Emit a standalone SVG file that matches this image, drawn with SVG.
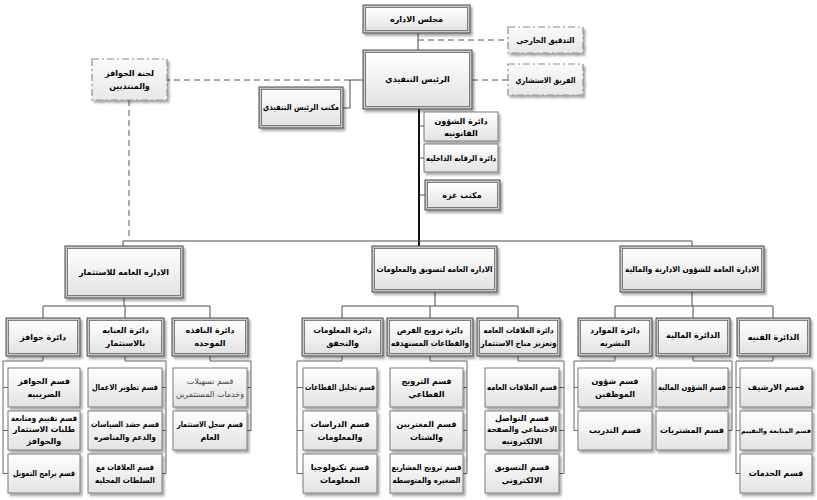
<svg xmlns="http://www.w3.org/2000/svg" width="817" height="500" viewBox="0 0 817 500">
<defs>
<linearGradient id="g" x1="0" y1="0" x2="0" y2="1"><stop offset="0" stop-color="#ffffff"/><stop offset="1" stop-color="#e2e2e2"/></linearGradient>
<linearGradient id="gd" x1="0" y1="0" x2="0" y2="1"><stop offset="0" stop-color="#fafafa"/><stop offset="1" stop-color="#e8e8e8"/></linearGradient>
<filter id="sh" x="-10%" y="-10%" width="130%" height="140%"><feDropShadow dx="2" dy="2.5" stdDeviation="1.2" flood-color="#000" flood-opacity="0.35"/></filter>
<style>
.o{fill:#c9c9c9;stroke:#4a4a4a;stroke-width:1;filter:url(#sh)}
.i{fill:url(#g);stroke:#666;stroke-width:0.8}
.s{fill:url(#g);stroke:#7a7a7a;stroke-width:1;filter:url(#sh)}
.d{fill:url(#gd);stroke:#8c8c8c;stroke-width:1.2;stroke-dasharray:7 3 2 3;filter:url(#sh)}
text{font-family:"DejaVu Sans","Liberation Sans",sans-serif;font-size:8px;font-weight:bold;text-anchor:middle;fill:#000}
.lt{font-weight:normal;fill:#444}
.sm{font-size:6.4px}
.cn path{fill:none;stroke:#4a4a4a;stroke-width:1}
.cn .ds{stroke:#555;stroke-dasharray:6 4}
.cn .tk{stroke:#111;stroke-width:2}
.cn .lg{stroke:#666}
</style>
</defs>
<rect width="817" height="500" fill="#fff"/>

<g id="connectors" class="cn">
<path d="M418,33V50"/>
<path class="ds" d="M418,40H508"/>
<path class="ds" d="M472,80H508"/>
<path d="M363,80H350V108H343"/>
<path class="ds" d="M350,80H167"/>
<path class="ds" d="M129,100V240"/>
<path class="tk" d="M419,109V246"/>
<path d="M419,126H424M419,158H424M419,195H425"/>
<path d="M123,246V241H692V246"/>
<path d="M124,298V306M43,318V306H210V318M125,306V318"/>
<path d="M435,292V306M342,318V306H518V318M430,306V318"/>
<path d="M692,292V306M615,318V306H773V318M693,306V318"/>
<path class="lg" d="M43,356V361H3V473.5M3,387.5H8M3,430.5H8M3,473.5H8"/>
<path class="lg" d="M125,356V361H166V473.5M166,387.5H162M166,430.5H162M166,473.5H162"/>
<path class="lg" d="M210,356V361H251V430.5M251,387.5H247M251,430.5H247"/>
<path class="lg" d="M342,356V361H297V473.5M297,387.5H303M297,430.5H303M297,473.5H303"/>
<path class="lg" d="M430,356V361H467V473.5M467,387.5H463M467,430.5H463M467,473.5H463"/>
<path class="lg" d="M518,356V361H564V473.5M564,387.5H559M564,430.5H559M564,473.5H559"/>
<path class="lg" d="M615,356V361H574V430.5M574,387.5H578M574,430.5H578"/>
<path class="lg" d="M693,356V361H732V430.5M732,387.5H728M732,430.5H728"/>
<path class="lg" d="M773,356V361H736V473.5M736,387.5H740M736,430.5H740M736,473.5H740"/>
</g>

<g id="board"><rect class="o" x="363" y="5" width="107" height="28"/><rect class="i" x="365.5" y="7.5" width="102" height="23"/><text x="416.5" y="22">مجلس الاداره</text></g>
<g id="ext-audit"><rect class="d" x="508" y="27" width="75" height="26"/><text x="545.5" y="43" textLength="58" lengthAdjust="spacingAndGlyphs">التدقيق الخارجي</text></g>
<g id="ceo"><rect class="o" x="363" y="50" width="109" height="59"/><rect class="i" x="365.5" y="52.5" width="104" height="54"/><text x="417.5" y="82">الرئيس التنفيذي</text></g>
<g id="advisory"><rect class="d" x="508" y="64" width="75" height="31"/><text x="545.5" y="83" textLength="60" lengthAdjust="spacingAndGlyphs">الفريق الاستشاري</text></g>
<g id="ceo-office"><rect class="o" x="259" y="87" width="84" height="41"/><rect class="i" x="261.5" y="89.5" width="79" height="36"/><text x="301" y="110" textLength="76" lengthAdjust="spacingAndGlyphs">مكتب الرئيس التنفيذي</text></g>
<g id="committee"><rect class="d" x="92" y="59" width="75" height="41"/><text x="129.5" y="76">لجنة الحوافز</text><text x="129.5" y="89">والمنتدبين</text></g>
<g id="legal"><rect class="s" x="424" y="112" width="74" height="29"/><text x="461" y="124">دائرة الشؤون</text><text x="461" y="136">القانونيه</text></g>
<g id="internal-audit"><rect class="s" x="424" y="144" width="74" height="28"/><text x="461" y="161" textLength="70" lengthAdjust="spacingAndGlyphs">دائرة الرقابه الداخليه</text></g>
<g id="gaza"><rect class="o" x="425" y="180" width="75" height="30"/><rect class="i" x="427.5" y="182.5" width="70" height="25"/><text x="462" y="198">مكتب غزه</text></g>

<g id="gd-invest"><rect class="o" x="65" y="246" width="118" height="52"/><rect class="i" x="67.5" y="248.5" width="113" height="47"/><text x="124" y="275" textLength="90" lengthAdjust="spacingAndGlyphs">الاداره العامه للاستثمار</text></g>
<g id="gd-marketing"><rect class="o" x="372" y="246" width="125" height="46"/><rect class="i" x="374.5" y="248.5" width="120" height="41"/><text x="434.5" y="272" textLength="116" lengthAdjust="spacingAndGlyphs">الاداره العامه لتسويق والمعلومات</text></g>
<g id="gd-admin"><rect class="o" x="620" y="246" width="144" height="46"/><rect class="i" x="622.5" y="248.5" width="139" height="41"/><text x="692" y="272" textLength="134" lengthAdjust="spacingAndGlyphs">الادارة العامة للشؤون الادارية والمالية</text></g>

<g id="d-hawafez"><rect class="o" x="6" y="318" width="74" height="38"/><rect class="i" x="8.5" y="320.5" width="69" height="33"/><text x="43" y="340">دائرة حوافز</text></g>
<g id="d-enaya"><rect class="o" x="87" y="318" width="77" height="38"/><rect class="i" x="89.5" y="320.5" width="72" height="33"/><text x="125.5" y="333">دائرة العنايه</text><text x="125.5" y="346">بالاستثمار</text></g>
<g id="d-nafitha"><rect class="o" x="172" y="318" width="76" height="38"/><rect class="i" x="174.5" y="320.5" width="71" height="33"/><text x="210" y="333">دائرة النافذه</text><text x="210" y="346">الموحده</text></g>
<g id="d-maalomat"><rect class="o" x="302" y="318" width="81" height="38"/><rect class="i" x="304.5" y="320.5" width="76" height="33"/><text x="342.5" y="333" textLength="58" lengthAdjust="spacingAndGlyphs">دائرة المعلومات</text><text x="342.5" y="346">والتحقق</text></g>
<g id="d-tarweej"><rect class="o" x="387" y="318" width="86" height="38"/><rect class="i" x="389.5" y="320.5" width="81" height="33"/><text x="430" y="333" textLength="66" lengthAdjust="spacingAndGlyphs">دائرة ترويج الفرص</text><text x="430" y="346" textLength="78" lengthAdjust="spacingAndGlyphs">والقطاعات المستهدفه</text></g>
<g id="d-alaqat"><rect class="o" x="477" y="318" width="83" height="38"/><rect class="i" x="479.5" y="320.5" width="78" height="33"/><text x="518.5" y="333" textLength="70" lengthAdjust="spacingAndGlyphs">دائرة العلاقات العامه</text><text x="518.5" y="346" textLength="76" lengthAdjust="spacingAndGlyphs">وتعزيز مناخ الاستثمار</text></g>
<g id="d-mawared"><rect class="o" x="578" y="318" width="74" height="38"/><rect class="i" x="580.5" y="320.5" width="69" height="33"/><text x="615" y="333">دائرة الموارد</text><text x="615" y="346">البشريه</text></g>
<g id="d-maliya"><rect class="o" x="656" y="318" width="74" height="38"/><rect class="i" x="658.5" y="320.5" width="69" height="33"/><text x="693" y="338">الدائرة المالية</text></g>
<g id="d-fanniya"><rect class="o" x="737" y="318" width="73" height="38"/><rect class="i" x="739.5" y="320.5" width="68" height="33"/><text x="773.5" y="340">الدائرة الفنيه</text></g>

<g id="s-h1"><rect class="s" x="8" y="368" width="72" height="39"/><text x="44" y="384">قسم الحوافز</text><text x="44" y="397">الضريبيه</text></g>
<g id="s-h2"><rect class="s" x="8" y="411" width="72" height="39"/><text x="44" y="421" textLength="66" lengthAdjust="spacingAndGlyphs">قسم تقييم ومتابعة</text><text x="44" y="432" textLength="62" lengthAdjust="spacingAndGlyphs">طلبات الاستثمار</text><text x="44" y="444">والحوافز</text></g>
<g id="s-h3"><rect class="s" x="8" y="454" width="72" height="39"/><text x="44" y="476" textLength="62" lengthAdjust="spacingAndGlyphs">قسم برامج التمويل</text></g>

<g id="s-e1"><rect class="s" x="88" y="368" width="74" height="39"/><text x="125" y="390" textLength="66" lengthAdjust="spacingAndGlyphs">قسم تطوير الاعمال</text></g>
<g id="s-e2"><rect class="s" x="88" y="411" width="74" height="39"/><text x="125" y="427" textLength="68" lengthAdjust="spacingAndGlyphs">قسم حشد السياسات</text><text x="125" y="440" textLength="62" lengthAdjust="spacingAndGlyphs">والدعم والمناصره</text></g>
<g id="s-e3"><rect class="s" x="88" y="454" width="74" height="39"/><text x="125" y="470" textLength="58" lengthAdjust="spacingAndGlyphs">قسم العلاقات مع</text><text x="125" y="483" textLength="60" lengthAdjust="spacingAndGlyphs">السلطات المحليه</text></g>

<g id="s-n1"><rect class="s" x="173" y="368" width="74" height="39"/><text class="lt" x="210" y="384">قسم تسهيلات</text><text class="lt" x="210" y="397" textLength="68" lengthAdjust="spacingAndGlyphs">وخدمات المستثمرين</text></g>
<g id="s-n2"><rect class="s" x="173" y="411" width="74" height="39"/><text x="210" y="427" textLength="66" lengthAdjust="spacingAndGlyphs">قسم سجل الاستثمار</text><text x="210" y="440">العام</text></g>

<g id="s-m1"><rect class="s" x="303" y="368" width="74" height="39"/><text x="340" y="390" textLength="70" lengthAdjust="spacingAndGlyphs">قسم تحليل القطاعات</text></g>
<g id="s-m2"><rect class="s" x="303" y="411" width="74" height="39"/><text x="340" y="427">قسم الدراسات</text><text x="340" y="440">والمعلومات</text></g>
<g id="s-m3"><rect class="s" x="303" y="454" width="74" height="39"/><text x="340" y="470">قسم تكنولوجيا</text><text x="340" y="483">المعلومات</text></g>

<g id="s-t1"><rect class="s" x="390" y="368" width="73" height="39"/><text x="426.5" y="384">قسم الترويج</text><text x="426.5" y="397">القطاعي</text></g>
<g id="s-t2"><rect class="s" x="390" y="411" width="73" height="39"/><text x="426.5" y="427">قسم المغتربين</text><text x="426.5" y="440">والشتات</text></g>
<g id="s-t3"><rect class="s" x="390" y="454" width="73" height="39"/><text x="426.5" y="470" textLength="70" lengthAdjust="spacingAndGlyphs">قسم ترويج المشاريع</text><text x="426.5" y="483" textLength="68" lengthAdjust="spacingAndGlyphs">الصغيره والمتوسطه</text></g>

<g id="s-a1"><rect class="s" x="485" y="368" width="74" height="39"/><text x="522" y="390" textLength="70" lengthAdjust="spacingAndGlyphs">قسم العلاقات العامه</text></g>
<g id="s-a2"><rect class="s" x="485" y="411" width="74" height="39"/><text x="522" y="421">قسم التواصل</text><text x="522" y="432" textLength="70" lengthAdjust="spacingAndGlyphs">الاجتماعي والصفحة</text><text x="522" y="444">الالكترونيه</text></g>
<g id="s-a3"><rect class="s" x="485" y="454" width="74" height="39"/><text x="522" y="470">قسم التسويق</text><text x="522" y="483">الالكتروني</text></g>

<g id="s-w1"><rect class="s" x="578" y="368" width="74" height="39"/><text x="615" y="384">قسم شؤون</text><text x="615" y="397">الموظفين</text></g>
<g id="s-w2"><rect class="s" x="578" y="411" width="74" height="39"/><text x="615" y="433">قسم التدريب</text></g>

<g id="s-l1"><rect class="s" x="656" y="368" width="72" height="39"/><text x="692" y="390" textLength="68" lengthAdjust="spacingAndGlyphs">قسم الشؤون المالية</text></g>
<g id="s-l2"><rect class="s" x="656" y="411" width="72" height="39"/><text x="692" y="433">قسم المشتريات</text></g>

<g id="s-f1"><rect class="s" x="740" y="368" width="72" height="39"/><text x="776" y="390">قسم الارشيف</text></g>
<g id="s-f2"><rect class="s" x="740" y="411" width="72" height="39"/><text class="sm" x="776" y="433">قسم المتابعة والتقييم</text></g>
<g id="s-f3"><rect class="s" x="740" y="454" width="72" height="39"/><text x="776" y="476">قسم الخدمات</text></g>
</svg>
